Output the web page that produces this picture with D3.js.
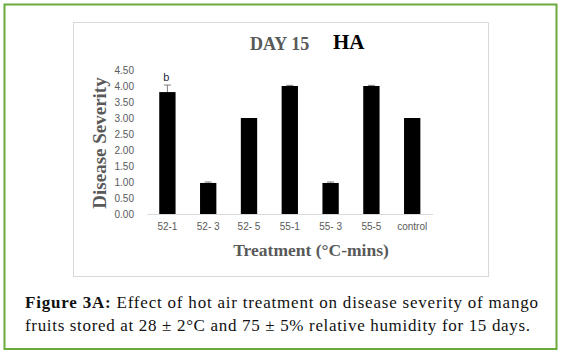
<!DOCTYPE html>
<html><head><meta charset="utf-8">
<script src="https://cdn.jsdelivr.net/npm/d3@7"></script>
<style>body{margin:0;background:#fff}svg{display:block}
.serif{font-family:'Liberation Serif','Times New Roman',Times,serif}
.sans{font-family:'Liberation Sans',Arial,sans-serif}
</style>
</head><body><svg id="c" width="563" height="355"></svg>
<script>
const categories = ["52-1","52- 3","52- 5","55-1","55- 3","55-5","control"];
const severity = [3.81, 0.97, 3.0, 4.0, 0.97, 4.0, 3.0];
const errors = [0.22, 0.03, 0, 0.02, 0.03, 0.02, 0];
const annotations = ["b","","","","","",""];
const yTicks = [0,0.5,1,1.5,2,2.5,3,3.5,4,4.5];
const captionBold = "Figure 3A:";
const captionLine1 = " Effect of hot air treatment on disease severity of mango";
const captionLine2 = "fruits stored at 28 ± 2°C and 75 ± 5% relative humidity for 15 days.";

const svg = d3.select("#c");
const gray = "#595959";

svg.append("rect").attr("x",4.5).attr("y",4.5).attr("width",552).attr("height",344.5)
  .attr("fill","#fff").attr("stroke","#68ab3c").attr("stroke-width",2);
svg.append("rect").attr("x",73.5).attr("y",22.5).attr("width",415).attr("height",254)
  .attr("fill","#fff").attr("stroke","#d9d9d9").attr("stroke-width",1);

const x = d3.scaleBand().domain(categories).range([147,432.6]).paddingInner(0.6).paddingOuter(0.3);
const y = d3.scaleLinear().domain([0,4.5]).range([214,70]);

// y axis labels
const ya = svg.append("g").attr("transform","translate(134,0)")
  .call(d3.axisLeft(y).tickValues(yTicks).tickFormat(d3.format(".2f")).tickSize(0).tickPadding(0));
ya.select(".domain").remove();
ya.selectAll("text").attr("fill",gray).attr("class","sans").attr("font-family",null).style("font-size","10px");

// bars
svg.append("g").selectAll("rect").data(categories).join("rect")
  .attr("x",d=>x(d)).attr("width",x.bandwidth())
  .attr("y",(d,i)=>y(severity[i])).attr("height",(d,i)=>y(0)-y(severity[i]))
  .attr("fill","#000");

// error bars (plus only)
const eb = svg.append("g").attr("stroke","#7f7f7f").attr("stroke-width",1);
categories.forEach((c,i)=>{
  if(!errors[i]) return;
  const cx = x(c)+x.bandwidth()/2;
  eb.append("line").attr("x1",cx).attr("x2",cx).attr("y1",y(severity[i])).attr("y2",y(severity[i]+errors[i]));
  eb.append("line").attr("x1",cx-3.5).attr("x2",cx+3.5).attr("y1",y(severity[i]+errors[i])).attr("y2",y(severity[i]+errors[i]));
});

// annotations
svg.append("g").selectAll("text").data(categories).join("text")
  .attr("x",d=>x(d)+x.bandwidth()/2-1).attr("y",(d,i)=>y(severity[i]+errors[i])-4)
  .attr("text-anchor","middle").attr("fill","#1f2a44").attr("class","sans")
  .style("font-size","11px")
  .text((d,i)=>annotations[i]);

// x axis
const xa = svg.append("g").attr("transform","translate(0,214)")
  .call(d3.axisBottom(x).tickSize(0).tickPadding(9));
xa.select(".domain").attr("stroke","#d9d9d9");
xa.selectAll("text").attr("fill",gray).attr("class","sans").style("font-size","10px");
xa.attr("font-family",null); ya.attr("font-family",null);

// titles
svg.append("text").attr("x",250).attr("y",50).attr("fill",gray).attr("class","serif")
  .style("font-weight","bold").style("font-size","18px").text("DAY 15");
svg.append("text").attr("x",333).attr("y",49).attr("fill","#000").attr("class","serif")
  .style("font-weight","bold").style("font-size","21px").text("HA");
svg.append("text").attr("transform","translate(106,143) rotate(-90)").attr("text-anchor","middle").attr("fill",gray)
  .attr("class","serif").style("font-weight","bold").style("font-size","19px").text("Disease Severity");
svg.append("text").attr("x",311).attr("y",256).attr("text-anchor","middle").attr("fill",gray)
  .attr("class","serif").style("font-weight","bold").style("font-size","17.5px").text("Treatment (°C-mins)");

// caption
const cap1 = svg.append("text").attr("x",25).attr("y",308).attr("fill","#111").attr("class","serif")
  .style("font-size","17px")
  .attr("textLength",513).attr("lengthAdjust","spacing");
cap1.append("tspan").style("font-weight","bold").text(captionBold);
cap1.append("tspan").text(captionLine1);
svg.append("text").attr("x",25).attr("y",331).attr("fill","#111").attr("class","serif")
  .style("font-size","17px")
  .attr("textLength",505).attr("lengthAdjust","spacing").text(captionLine2);
</script></body></html>
